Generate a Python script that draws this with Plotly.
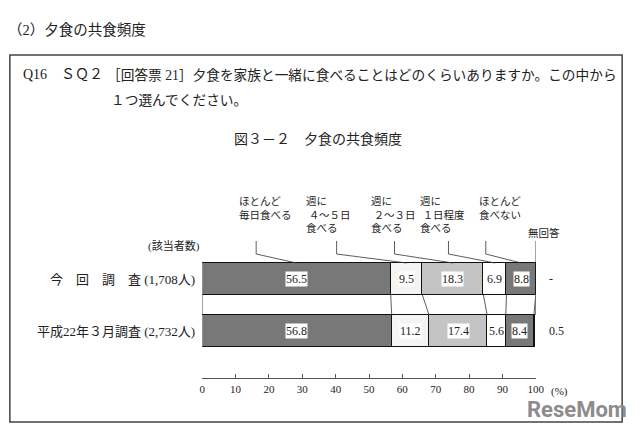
import plotly.graph_objects as go

# ---------------- data ----------------
survey_labels = ["今　回　調　査 (1,708人)", "平成22年３月調査 (2,732人)"]
answer_labels = ["ほとんど\n毎日食べる", "週に\n\u00a0４～５日\n食べる", "週に\n\u00a0２～３日\n食べる",
                 "週に\n\u00a0１日程度\n食べる", "ほとんど\n食べない", "無回答"]
current_pct = [56.5, 9.5, 18.3, 6.9, 8.8, 0.0]
h22_pct = [56.8, 11.2, 17.4, 5.6, 8.4, 0.5]
tick_values = [0, 10, 20, 30, 40, 50, 60, 70, 80, 90, 100]
tick_labels = ["0", "10", "20", "30", "40", "50", "60", "70", "80", "90", "100"]

header_text = "（2）夕食の共食頻度"
question_id = "Q16　ＳＱ２"
question_line1 = "［回答票 21］夕食を家族と一緒に食べることはどのくらいありますか。この中から"
question_line2 = "１つ選んでください。"
chart_title = "図３－２　夕食の共食頻度"
count_caption = "(該当者数)"
unit_label = "(%)"

# ---------------- style / layout ----------------
W, H = 640, 431
JP = "Liberation Serif, Noto Sans CJK JP, serif"
TXT = "#222222"
colors = ["#787878", "#f4f4f4", "#c4c4c4", "#ffffff", "#787878", "#1a1a1a"]

X0_PX, X100_PX = 203, 543          # axis pixel span
BAR_C0_PX, BAR_STEP_PX, BAR_H_PX = 279, 52, 32
bar_w = BAR_H_PX / BAR_STEP_PX
y_top_val = -BAR_C0_PX / BAR_STEP_PX
y_bot_val = (H - BAR_C0_PX) / BAR_STEP_PX

def py(p):  # pixel y -> paper
    return 1 - p / H

def px(p):  # pixel x -> paper
    return p / W

def pxd(p):  # pixel x -> data x
    return (p - X0_PX) / (X100_PX - X0_PX) * 100

series = [current_pct, h22_pct]

fig = go.Figure()
for i, lab in enumerate(answer_labels):
    fig.add_trace(go.Bar(
        x=[s[i] for s in series], y=survey_labels, orientation="h",
        width=bar_w, name=lab.replace("\n", ""),
        marker=dict(color=colors[i], line=dict(color="#111111", width=1.5)),
        hoverinfo="skip", showlegend=False))

annotations = []
shapes = []

def txt(text, x, y, size, xanchor="left", yanchor="middle", family=JP, color=TXT, **kw):
    annotations.append(dict(text=text, x=px(x), y=py(y), xref="paper", yref="paper",
                            xanchor=xanchor, yanchor=yanchor, showarrow=False, align="left",
                            font=dict(size=size, family=family, color=color), **kw))

# frame box
shapes.append(dict(type="rect", xref="paper", yref="paper", x0=px(7), x1=px(631),
                   y0=py(55), y1=py(422), line=dict(color="#444444", width=1.5)))

txt(header_text, 3, 30, 14.5)
txt(question_id, 18, 75, 14)
txt(question_line1, 104, 75, 13.7)
txt(question_line2, 108, 100, 13.7)
txt(chart_title, 321, 140, 14, xanchor="center")
txt(count_caption, 174, 246, 11, xanchor="center")
txt(unit_label, 556, 391, 11)

# category labels
for j, lab in enumerate(survey_labels):
    annotations.append(dict(text=lab, x=px(198), xref="paper", y=j, yref="y",
                            xanchor="right", yanchor="middle", showarrow=False,
                            font=dict(size=13, family=JP, color=TXT)))

# value labels
for j, s in enumerate(series):
    cum = 0.0
    for i, v in enumerate(s):
        if i < len(s) - 1:
            annotations.append(dict(text=f"{v:.1f}", x=cum + v / 2, y=j, xref="x", yref="y",
                                    xanchor="center", yanchor="middle", showarrow=False,
                                    bgcolor="white", borderpad=0,
                                    font=dict(size=12, family=JP, color=TXT)))
        else:
            annotations.append(dict(text=("-" if v == 0 else f"{v:.1f}"), x=px(554), y=j,
                                    xref="paper", yref="y", xanchor="left", yanchor="middle",
                                    showarrow=False, font=dict(size=12, family=JP, color=TXT)))
        cum += v

# connectors between the two bars
def cums(s):
    out = [0.0]
    for v in s:
        out.append(out[-1] + v)
    return out

ct, cb = cums(current_pct), cums(h22_pct)
for a, b in zip(ct, cb):
    shapes.append(dict(type="line", xref="x", yref="y", x0=a, x1=b,
                       y0=bar_w / 2, y1=1 - bar_w / 2, line=dict(color="#333333", width=0.8)))

# answer labels with leader lines (top bar)
label_left_px = [238, 307, 373, 423, 483, 533]
leader_px = [258, 340, 399, 454, 492, 543]
bar_top_px = BAR_C0_PX - BAR_H_PX / 2
for i, lab in enumerate(answer_labels):
    lines = lab.split("\n")
    top = 225 if len(lines) == 1 else 194
    txt("<br>".join(lines), label_left_px[i], top, 10.5, yanchor="top")
    center = ct[i] + current_pct[i] / 2
    xv = pxd(leader_px[i])
    path = f"M {xv},{py(241)} L {xv},{py(254)} L {center},{py(bar_top_px)}"
    shapes.append(dict(type="path", xref="x", yref="paper", path=path,
                       line=dict(color="#333333", width=0.8)))

# watermark logo
txt("<b>ReseMom</b>", 585, 409, 22, xanchor="center",
    family="Roboto, Liberation Sans, sans-serif", color="#8c8c8c")

fig.update_layout(
    width=W, height=H, margin=dict(l=0, r=0, t=0, b=0),
    paper_bgcolor="white", plot_bgcolor="rgba(0,0,0,0)",
    barmode="stack", bargap=0,
    xaxis=dict(domain=[X0_PX / W, X100_PX / W], range=[0, 100], anchor="free",
               position=py(378), showgrid=False, zeroline=False,
               showline=True, linecolor="#555555", linewidth=1,
               ticks="inside", ticklen=4, tickcolor="#555555",
               tickvals=tick_values, ticktext=tick_labels, ticklabelstandoff=1,
               tickfont=dict(size=11, family=JP, color=TXT), fixedrange=True),
    yaxis=dict(domain=[0, 1], type="category", range=[y_bot_val, y_top_val],
               visible=False, fixedrange=True),
    annotations=annotations, shapes=shapes,
    font=dict(family=JP),
)
fig.write_html("out.html", config={"displayModeBar": False},
               post_script="document.body.style.margin='0';document.body.style.overflow='hidden';")
